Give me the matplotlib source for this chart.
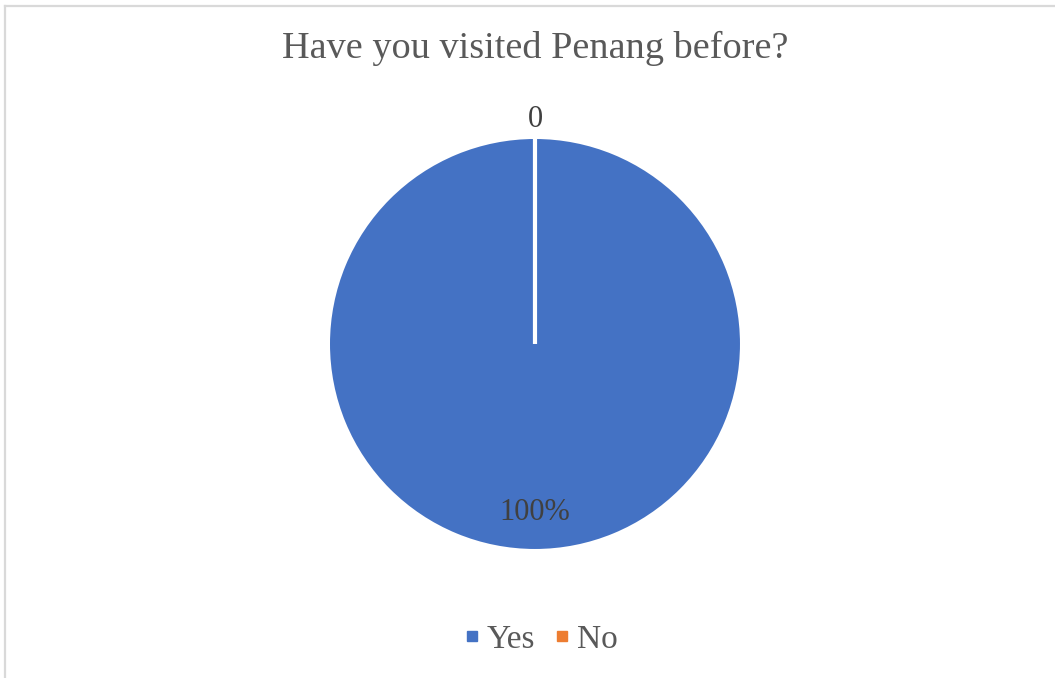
import matplotlib
matplotlib.use("Agg")
import matplotlib.pyplot as plt
import numpy as np
from matplotlib.lines import Line2D

answers = ["Yes", "No"]
shares = [100, 0]
label_fmt = ["{:.0f}%", "{:.0f}"]
colors = ["#4472C4", "#ED7D31"]

plt.rcParams['font.family'] = ['Liberation Serif', 'DejaVu Serif']

fig = plt.figure(figsize=(10.55, 6.78), dpi=100)

# light frame around the chart area (left and top edges only visible)
fig.add_artist(Line2D([0.0052, 0.0052], [0, 0.991], transform=fig.transFigure,
                      color="#d9d9d9", lw=1.6))
fig.add_artist(Line2D([0.0052, 1.0], [0.991, 0.991], transform=fig.transFigure,
                      color="#d9d9d9", lw=1.6))

ax = fig.add_axes([0.3128, 0.1903, 0.3886, 0.6047])
wedges, _ = ax.pie(shares, colors=colors, startangle=90, counterclock=False,
                   wedgeprops=dict(edgecolor="white", linewidth=3))
# only the empty slice keeps its white edge (the separator at 12 o'clock)
wedges[0].set_linewidth(0)
ax.set_xlim(-1, 1)
ax.set_ylim(-1, 1)
ax.set_aspect("equal")

# value labels: inside for the filled slice, outside for the empty one
for w, v, fmt in zip(wedges, shares, label_fmt):
    ang = np.deg2rad((w.theta1 + w.theta2) / 2)
    dist = 0.82 if v > 0 else 1.095
    ax.text(dist * np.cos(ang), dist * np.sin(ang), fmt.format(v),
            ha="center", va="center", fontsize=22, color="#404040",
            clip_on=False)

fig.text(0.507, 0.928, "Have you visited Penang before?", ha="center",
         va="center", fontsize=27.5, color="#595959")

handles = [plt.Line2D([], [], marker="s", linestyle="none", markersize=7.5,
                      markerfacecolor=c, markeredgecolor=c) for c in colors]
fig.legend(handles, answers, loc="center", bbox_to_anchor=(0.511, 0.057),
           ncol=2, frameon=False, fontsize=24, labelcolor="#595959",
           handletextpad=0.1, columnspacing=0.45, handlelength=0.7)

fig.savefig("out.png", dpi=100)
